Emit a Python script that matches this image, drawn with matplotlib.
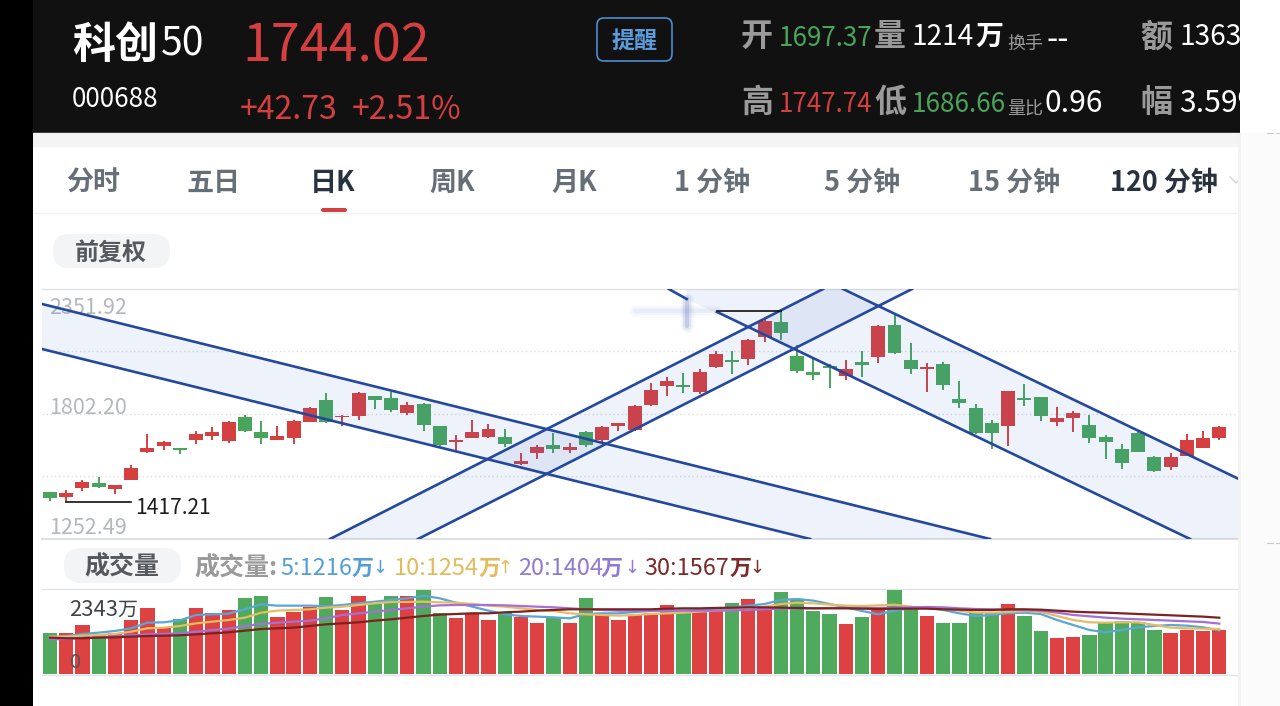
from matplotlib import use as setRenderingBackend
setRenderingBackend('Agg')

from matplotlib import pyplot as plt
from matplotlib.patches import FancyBboxPatch, Rectangle, Polygon

FONT = ['Noto Sans CJK SC', 'DejaVu Sans']
plt.rcParams['font.family'] = FONT

RED = '#d63f40'
GREEN = '#49a55b'
BAND = '#3d6fd0'
LINE = '#25489f'

# daily candles
opens = [1460, 1436, 1478, 1499, 1472, 1511, 1634, 1663, 1651, 1688, 1707, 1685, 1790, 1722, 1689, 1698, 1767, 1864,
         1788, 1795, 1881, 1874, 1808, 1848, 1748, 1678, 1698, 1701, 1702, 1582, 1632, 1665, 1644, 1723, 1688, 1748,
         1732, 1840, 1927, 1931, 1899, 2009, 2041, 2045, 2140, 2208, 2059, 1985, 2015, 1971, 2030, 2053, 2192, 2040,
         1999, 2022, 1868, 1829, 1763, 1749, 1874, 1876, 1768, 1783, 1754, 1701, 1650, 1717, 1614, 1569, 1617, 1653,
         1697.37]
closes = [1432, 1455, 1503, 1481, 1489, 1566, 1653, 1678, 1643, 1714, 1723, 1767, 1727, 1698, 1707, 1773, 1830, 1767,
          1795, 1893, 1865, 1818, 1842, 1754, 1665, 1689, 1723, 1735, 1669, 1597, 1658, 1647, 1658, 1665, 1744, 1761,
          1839, 1909, 1949, 1922, 1988, 2067, 2031, 2128, 2210, 2160, 1991, 1974, 2003, 2002, 2016, 2189, 2070, 1999,
          2010, 1928, 1849, 1717, 1720, 1902, 1862, 1792, 1785, 1807, 1695, 1680, 1588, 1636, 1552, 1612, 1689, 1697,
          1744.02]
highs = [1461, 1468, 1511, 1524, 1490, 1577, 1714, 1683, 1654, 1726, 1746, 1771, 1799, 1770, 1748, 1776, 1833, 1893,
         1798, 1900, 1881, 1900, 1854, 1852, 1751, 1710, 1776, 1758, 1735, 1632, 1665, 1720, 1673, 1727, 1748, 1764,
         1842, 1937, 1964, 1984, 1999, 2079, 2079, 2131, 2219, 2257, 2106, 2044, 2021, 2041, 2081, 2194, 2238, 2113,
         2028, 2030, 1949, 1845, 1776, 1905, 1934, 1877, 1832, 1815, 1798, 1710, 1669, 1724, 1619, 1629, 1714, 1727,
         1747.74]
lows = [1420, 1417.21, 1465, 1478, 1449, 1511, 1632, 1645, 1625, 1669, 1689, 1676, 1724, 1669, 1687, 1669, 1767, 1763,
        1748, 1775, 1826, 1811, 1797, 1729, 1663, 1641, 1698, 1698, 1658, 1577, 1606, 1632, 1632, 1656, 1676, 1729,
        1729, 1837, 1881, 1893, 1890, 2006, 1980, 2016, 2119, 2128, 1981, 1950, 1917, 1953, 1965, 2027, 2067, 1977,
        1898, 1909, 1830, 1714, 1647, 1661, 1837, 1771, 1749, 1724, 1675, 1606, 1559, 1636, 1548, 1555, 1617, 1653,
        1686.66]

# volume, in 10k shares
volumes = [1143, 1134, 1365, 1088, 1134, 1512, 1835, 1291, 1531, 1835, 1687, 1779, 2121, 2176, 1595, 1715, 1853, 2139,
           1770, 2167, 1936, 2176, 2167, 2343, 1696, 1567, 1669, 1503, 1687, 1577, 1411, 1549, 1429, 2111, 1641, 1512,
           1641, 1687, 1927, 1706, 1779, 1779, 1973, 2075, 1826, 2277, 2056, 1761, 1660, 1401, 1577, 1826, 2323, 1826,
           1604, 1429, 1429, 1687, 1687, 1955, 1623, 1189, 1014, 1033, 1088, 1411, 1475, 1438, 1235, 1134, 1235, 1199,
           1214]
ma5 = [1015, 1061, 1117, 1154, 1200, 1274, 1430, 1440, 1495, 1643, 1661, 1680, 1800, 1938, 1901, 1901, 1901, 1883,
       1920, 1966, 2012, 2058, 2104, 2178, 2104, 1984, 1873, 1763, 1661, 1615, 1597, 1578, 1550, 1670, 1689, 1689, 1726,
       1754, 1754, 1763, 1781, 1800, 1855, 1901, 1947, 2058, 2086, 2040, 1947, 1855, 1754, 1661, 1763, 1827, 1846,
       1781, 1689, 1615, 1643, 1689, 1707, 1670, 1504, 1366, 1227, 1163, 1227, 1301, 1338, 1366, 1347, 1301, 1216]
ma10 = [1043, 1043, 1070, 1089, 1117, 1181, 1274, 1292, 1338, 1412, 1458, 1504, 1569, 1707, 1763, 1781, 1800, 1846,
        1873, 1920, 1966, 2003, 2003, 2012, 1994, 1984, 1947, 1901, 1873, 1827, 1781, 1754, 1689, 1661, 1643, 1624, 1643,
        1670, 1689, 1707, 1735, 1763, 1781, 1827, 1873, 1947, 1984, 1966, 1929, 1901, 1892, 1910, 1929, 1873, 1827,
        1827, 1763, 1707, 1707, 1726, 1754, 1726, 1615, 1504, 1440, 1430, 1440, 1440, 1366, 1292, 1274, 1264, 1254]
ma20 = [969, 978, 1006, 1024, 1043, 1080, 1107, 1117, 1135, 1181, 1227, 1264, 1338, 1394, 1430, 1458, 1486, 1550,
        1643, 1689, 1735, 1781, 1827, 1873, 1910, 1920, 1920, 1920, 1910, 1892, 1873, 1855, 1827, 1800, 1781, 1763, 1763,
        1763, 1763, 1763, 1763, 1763, 1772, 1781, 1800, 1818, 1827, 1827, 1837, 1837, 1837, 1837, 1846, 1855, 1864,
        1855, 1827, 1809, 1800, 1790, 1781, 1763, 1707, 1643, 1606, 1569, 1541, 1523, 1504, 1486, 1467, 1449, 1404]
ma30 = [1015, 997, 997, 1015, 1024, 1043, 1061, 1070, 1080, 1107, 1135, 1163, 1209, 1255, 1274, 1292, 1338, 1384,
        1412, 1440, 1486, 1523, 1569, 1615, 1652, 1670, 1689, 1689, 1717, 1735, 1763, 1781, 1800, 1800, 1800, 1800, 1800,
        1800, 1818, 1827, 1827, 1837, 1846, 1855, 1855, 1846, 1837, 1827, 1827, 1827, 1818, 1809, 1818, 1818, 1818,
        1800, 1790, 1781, 1781, 1800, 1800, 1790, 1763, 1735, 1717, 1707, 1689, 1670, 1652, 1634, 1615, 1597, 1567]

PRICE_MAX = 2351.92
PRICE_MID = 1802.20
PRICE_MIN = 1252.49
VOLUME_MAX = 2343

# hand drawn trend channels: (candle index, price) end points
channel_a_upper = ([-0.49, 57.88], [2286, 1252.49])
channel_a_lower = ([-0.49, 46.8], [2088, 1252.49])
channel_b_upper = ([17.24, 47.6], [1252.49, 2351.92])
channel_b_lower = ([22.66, 53.08], [1252.49, 2351.92])
channel_c_upper = ([48.83, 80.9], [2351.92, 1252.49])
channel_c_lower = ([41.07, 70.2], [2251, 1252.49])
channel_c_stub = ([38.1, 39.2], [2351.92, 2308])
channel_c_start = 39.2

W, H = 1280, 706
fig = plt.figure(figsize=(W / 100, H / 100), dpi=100, facecolor='white')


def pixel_axes(zorder):
    ax = fig.add_axes([0, 0, 1, 1], zorder=zorder)
    ax.set_xlim(0, W)
    ax.set_ylim(H, 0)
    ax.axis('off')
    ax.patch.set_alpha(0)
    return ax


def chart_axes(left, top, right, bottom):
    ax = fig.add_axes([left / W, 1 - bottom / H, (right - left) / W, (bottom - top) / H], zorder=2)
    ax.set_xlim(-0.4926, 73.15)
    ax.patch.set_alpha(0)
    ax.set_xticks([])
    ax.set_yticks([])
    for spine in ax.spines.values():
        spine.set_visible(False)
    return ax


back = pixel_axes(0)
front = pixel_axes(5)


def label(ax, x, y, s, px, color, ha='left', weight='normal'):
    # y is where the glyphs should be centred, the CJK font sits high in its box
    ax.text(x, y + 0.1 * px, s, fontsize=px * 0.72, color=color, ha=ha, va='center', fontweight=weight, clip_on=True)


# page chrome
back.add_patch(Rectangle((33, 0), 1207, 132, color='#111111'))
back.add_patch(Rectangle((33, 133), 1207, 13, color='#f4f4f4'))
back.plot([33, 1240], [213, 213], color='#f1f1f1', lw=1)

# header
label(back, 72, 41, '科创', 43, 'white', weight='bold')
label(back, 161, 41, '50', 39, 'white')
label(back, 242, 42, '1744.02', 52, RED)
label(back, 72, 97, '000688', 26, 'white')
label(back, 240, 107, '+42.73', 32, RED)
label(back, 352, 107, '+2.51%', 32, RED)
back.add_patch(FancyBboxPatch((602, 23), 65, 33, boxstyle='round,pad=5,rounding_size=7', fc='none', ec='#4a8fd0', lw=1.2))
label(back, 634, 39, '提醒', 23, '#5b9ddc', ha='center', weight='bold')

GRAY = '#9a9a9a'
GREEN_TEXT = '#4aa55c'
for x, y, s, px, c in [
    (779, 36, '1697.37', 26, GREEN_TEXT), (912, 34, '1214', 28, 'white'), (1046, 37, '--', 32, 'white'),
    (1179, 34, '1363', 28, 'white'), (779, 102, '1747.74', 26, RED), (912, 102, '1686.66', 26, GREEN_TEXT),
    (1045, 101, '0.96', 30, 'white'), (1179, 101, '3.59%', 30, 'white'),
]:
    label(back, x, y, s, px, c)
for x, y, s, px, c in [
    (741, 34, '开', 32, GRAY), (874, 34, '量', 32, GRAY), (975, 34, '万', 28, 'white'), (1007, 42, '换手', 18, GRAY),
    (1140, 34, '额', 32, GRAY), (741, 100, '高', 32, GRAY), (874, 100, '低', 32, GRAY), (1007, 108, '量比', 18, GRAY),
    (1140, 100, '幅', 32, GRAY),
]:
    label(back, x, y, s, px, c, weight='bold' if px > 20 else 'normal')

# period tabs
TAB = '#666e78'
TAB_ON = '#293340'
for x, s, c in [
    (66, '分时', TAB), (186, '五日', TAB), (310, '日K', TAB_ON), (429, '周K', TAB), (551, '月K', TAB),
    (674, '1 分钟', TAB), (824, '5 分钟', TAB), (968, '15 分钟', TAB), (1110, '120 分钟', TAB_ON),
]:
    label(back, x, 180, s, 27, c, weight='bold')
back.plot([1230, 1236, 1242], [177, 183, 177], color='#d5d5d5', lw=1)
back.add_patch(FancyBboxPatch((322, 209), 24, 2, boxstyle='round,pad=1,rounding_size=2', color=RED, lw=0))

# pills
back.add_patch(FancyBboxPatch((53, 234), 117, 34, boxstyle='round,pad=0,rounding_size=16', color='#f3f4f5', lw=0))
label(back, 111, 251, '前复权', 24, '#55595e', ha='center', weight='bold')
back.add_patch(FancyBboxPatch((64, 548), 117, 35, boxstyle='round,pad=0,rounding_size=17', color='#f3f4f5', lw=0))
label(back, 122, 565, '成交量', 25, '#55595e', ha='center', weight='bold')

# grid
back.plot([42, 1238], [289, 289], color='#e2e3e5', lw=1)
back.plot([42, 1238], [539, 539], color='#dfe0e2', lw=1.5)
back.plot([42, 1238], [589, 589], color='#e2e3e5', lw=1)
back.plot([42, 1240], [674.5, 674.5], color='#e2e3e5', lw=1)
for y in (351, 414, 476):
    back.plot([42, 1238], [y, y], color='#dcdde0', lw=1, ls=(0, (1, 2)))

# price labels
label(back, 49, 306, '%.2f' % PRICE_MAX, 21.5, '#b4b8bc')
label(back, 49, 406, '%.2f' % PRICE_MID, 21.5, '#b4b8bc')
label(back, 49, 526, '%.2f' % PRICE_MIN, 21.5, '#b4b8bc')

# candles
ax_price = chart_axes(42, 289, 1238, 539)
ax_price.set_ylim(PRICE_MIN, PRICE_MAX)
index = list(range(len(opens)))
colors = [RED if c >= o else GREEN for o, c in zip(opens, closes)]
ax_price.vlines(index, lows, highs, colors=colors, lw=1.4, zorder=2)
ax_price.bar(index, [abs(c - o) for o, c in zip(opens, closes)], bottom=[min(o, c) for o, c in zip(opens, closes)],
             width=0.86, color=colors, zorder=2)

# channels
for upper, lower in [(channel_a_upper, channel_a_lower), (channel_b_upper, channel_b_lower)]:
    ax_price.add_patch(Polygon(list(zip(*upper)) + list(zip(*lower))[::-1], fc=BAND, alpha=0.085, lw=0, zorder=3))
ax_price.add_patch(Polygon([(channel_c_start, PRICE_MAX), (channel_c_upper[0][0], PRICE_MAX),
                            (channel_c_upper[0][1], PRICE_MIN), (channel_c_lower[0][1], PRICE_MIN),
                            (channel_c_start, channel_c_stub[1][1])], fc=BAND, alpha=0.085, lw=0, zorder=3))
for line in (channel_a_upper, channel_a_lower, channel_b_upper, channel_b_lower, channel_c_upper, channel_c_lower,
             channel_c_stub):
    ax_price.plot(*line, color=LINE, lw=1.9, zorder=4)

# high / low markers
max_at = highs.index(max(highs))
min_at = lows.index(min(lows))
ax_price.plot([41.1, max_at], [max(highs), max(highs)], color='#111111', lw=1.2, zorder=5)
ax_price.plot([min_at, 5], [min(lows), min(lows)], color='#111111', lw=1.2, zorder=5)
label(front, 135, 506, '%.2f' % min(lows), 21, '#1c1c1c')

# smudge where the max label was painted over
for lw, alpha in [(9, 0.02), (6, 0.03), (3, 0.05)]:
    ax_price.plot([36.0, 41.1], [2255, 2255], color=LINE, lw=lw, alpha=alpha, zorder=5, solid_capstyle='round')
    ax_price.plot([39.2, 39.2], [2310, 2190], color=LINE, lw=lw, alpha=alpha * 3, zorder=5, solid_capstyle='round')

# volume
ax_vol = chart_axes(42, 589.7, 1238, 674.3)
ax_vol.set_ylim(0, VOLUME_MAX)
ax_vol.bar(index, volumes, width=0.88, color=['#dd4142' if c == RED else '#4faa5e' for c in colors], zorder=2)
for series, color in [(ma5, '#58a6da'), (ma10, '#e5bd62'), (ma20, '#a56fd6'), (ma30, '#7c2322')]:
    ax_vol.plot(index, series, color=color, lw=1.6, zorder=3)

label(front, 69, 608, '2343', 22, '#3f4246')
label(front, 117, 608, '万', 20, '#3f4246')
label(front, 70, 661, '0', 20, '#555555')

# volume legend, one piece per run so the gaps hold
label(back, 194, 566, '成交量:', 25, '#9a9a9a', weight='bold')
for x_num, x_wan, x_arrow, s, arrow, c in [
    (280, 352, 380, '5:1216', '↓', '#559fd8'), (394, 479, 505, '10:1254', '↑', '#e3ba5c'),
    (518, 601, 632, '20:1404', '↓', '#8f7bd2'), (644, 730, 757, '30:1567', '↓', '#7c2a2a'),
]:
    label(back, x_num, 566, s, 23.5, c)
    label(back, x_wan, 566, '万', 22, c, weight='bold')
    back.text(x_arrow, 568, arrow, fontsize=13, color=c, ha='center', va='center', family=['DejaVu Sans'])

# screen edges
front.add_patch(Rectangle((0, 0), 33, H, color='black', lw=0))
front.add_patch(Rectangle((1240, 0), 40, H, color='#fbfbfb', lw=0))
front.add_patch(Rectangle((1238, 133), 3, H - 133, color='#f2f2f3', lw=0))
front.add_patch(Rectangle((1240, 0), 40, 133, color='white', lw=0))
for y in (133, 543):
    front.plot([1267, 1273], [y, y], color='#c8c8c8', lw=0.8)
    front.plot([1276, 1280], [y, y], color='#c8c8c8', lw=0.8)

fig.savefig('out.png', dpi=100)
plt.close(fig)
